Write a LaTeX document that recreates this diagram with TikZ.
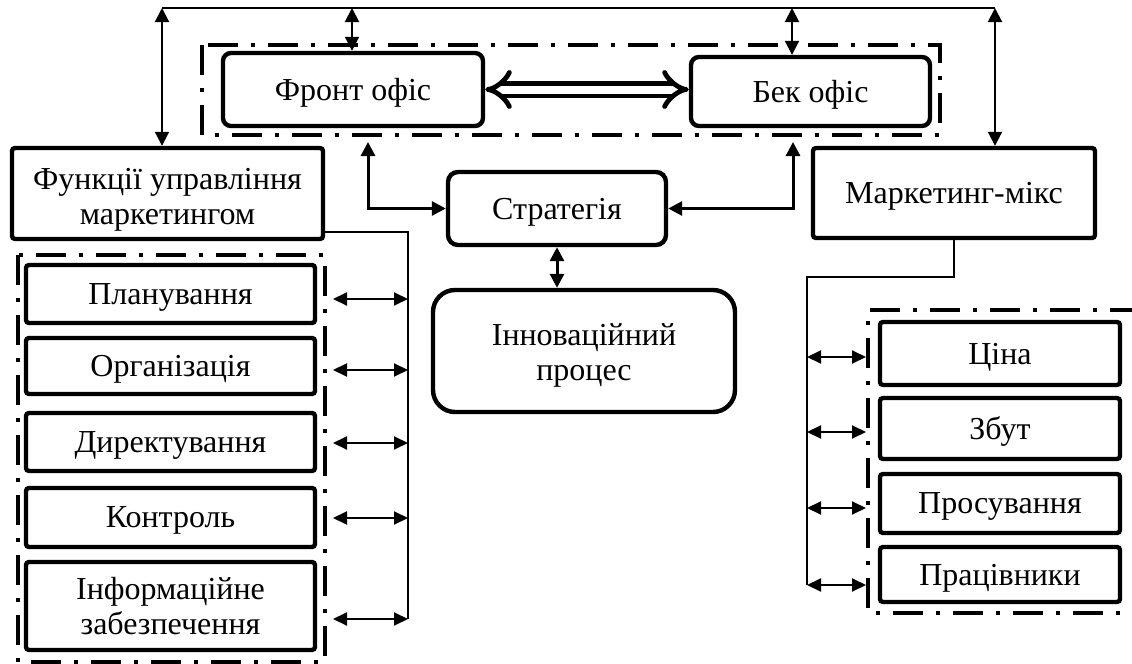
\documentclass[tikz,border=0pt]{standalone}
\usepackage{fontspec}
\setmainfont{Liberation Serif}
\usetikzlibrary{arrows.meta,calc}
\begin{document}
\begin{tikzpicture}[x=0.5pt,y=-0.5pt,
  font=\fontsize{16}{17.5}\selectfont,
  box/.style={draw,line width=2.2pt,rounded corners=1.5pt,inner sep=0pt,align=center,text depth=0pt},
  rbox/.style={box,rounded corners=4pt},
  lbox/.style={box,minimum width=144.5pt},
  rtbox/.style={box,minimum width=120pt},
  txt/.style={align=center,inner sep=0pt},
  dd/.style={line width=2pt,dash pattern=on 15pt off 6.5pt on 2pt off 6.5pt},
  bus/.style={line width=0.7pt},
  tip/.tip={Triangle[length=7pt,width=7pt]},
  arr/.style={line width=1pt,tip-tip},
  marr/.style={line width=1.5pt,tip-tip},
  sarr/.style={line width=1pt,{Triangle[length=7pt,width=6.5pt]}-{Triangle[length=7pt,width=6.5pt]}},
  ]
\useasboundingbox (0,0) rectangle (1132,664);
% dashed frames
\draw[dd] (202,45) rectangle (940,135);
\draw[dd] (18,255) rectangle (325,662);
\draw[dd] (1140,310) -- (868,310) -- (868,613) -- (1140,613);
% nodes
\node[rbox, minimum width=130pt, minimum height=36.5pt] (front) at (353,89.5) {Фронт офіс};
\node[rbox, minimum width=119.5pt, minimum height=34.5pt] (back) at (810.5,91.5) {Бек офіс};
\node[box, minimum width=155.5pt, minimum height=45.5pt,
  label={[txt,yshift=-3pt]center:Функції управління\\маркетингом}] (func) at (167.5,193.5) {};
\node[box, rounded corners=5pt, minimum width=109pt, minimum height=36.5pt] (strat) at (557,208.5) {Стратегія};
\node[box, rounded corners=11pt, minimum width=151pt, minimum height=61pt,
  label={[txt,yshift=-2pt]center:Інноваційний\\процес}] (innov) at (584,351) {};
\node[box, minimum width=141pt, minimum height=45pt] (mix) at (954,193) {Маркетинг-мікс};
\node[lbox, minimum height=29pt] (plan) at (170.5,294) {Планування};
\node[lbox, minimum height=28pt] (org) at (170.5,366) {Організація};
\node[lbox, minimum height=29pt] (dir) at (170.5,442) {Директування};
\node[lbox, minimum height=29.5pt] (ctrl) at (170.5,517.5) {Контроль};
\node[lbox, minimum height=44pt] (info) at (170.5,606) {Інформаційне\\забезпечення};
\node[rtbox, minimum height=31.5pt] (price) at (1000,353.5) {Ціна};
\node[rtbox, minimum height=30.5pt] (sales) at (1000,428.5) {Збут};
\node[rtbox, minimum height=29.5pt] (promo) at (1000,503.5) {Просування};
\node[rtbox, minimum height=27.5pt] (staff) at (1000,574.5) {Працівники};
% top connectors
\coordinate (tl) at (162,8);
\coordinate (tr) at (995,8);
\coordinate (tf) at (352,8);
\coordinate (tb) at (792,8);
\draw[line width=1pt] (tl) -- (tr);
\draw[arr] (tl) -- (tl |- func.north);
\draw[arr] (tr) -- (tr |- mix.north);
\draw[arr] (tf) -- (tf |- front.north);
\draw[arr] (tb) -- (tb |- back.north);
% double arrow
\draw[line width=2.4pt, double, double distance=4pt, {Implies}-{Implies}] (front.east) -- (front.east -| back.west);
% strategy
\coordinate (sl) at (368,142);
\coordinate (sr) at (793,142);
\draw[marr] (sl) |- (strat.west);
\draw[marr] (sr) |- (strat.east);
\draw[marr] (strat.south) -- (strat.south |- innov.north);
% left bus
\coordinate (lb1) at (408,232);
\coordinate (lb2) at (408,619);
\draw[bus] (func.east |- lb1) -- (lb1) -- (lb2);
\draw[sarr] (333,299) -- (lb1 |- 0,299);
\draw[sarr] (333,370) -- (lb1 |- 0,370);
\draw[sarr] (333,443) -- (lb1 |- 0,443);
\draw[sarr] (333,518) -- (lb1 |- 0,518);
\draw[sarr] (333,619) -- (lb2);
% right bus
\coordinate (rb1) at (807,277);
\coordinate (rb2) at (807,585);
\draw[bus] (mix.south) |- (rb1) -- (rb2);
\draw[sarr] (rb1 |- 0,357) -- (866,357);
\draw[sarr] (rb1 |- 0,432) -- (866,432);
\draw[sarr] (rb1 |- 0,508) -- (866,508);
\draw[sarr] (rb2) -- (866,585);
\end{tikzpicture}
\end{document}
